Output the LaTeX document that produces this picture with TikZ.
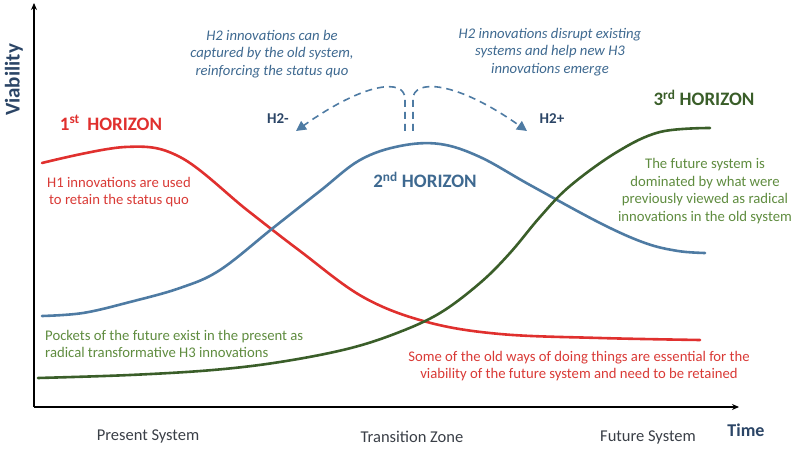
\documentclass[tikz,border=0pt]{standalone}
\usepackage{fontspec}
\setmainfont{Carlito}
\usetikzlibrary{arrows.meta,positioning}

\definecolor{hred}{HTML}{E0302E}
\definecolor{hredtxt}{HTML}{D93A36}
\definecolor{hblue}{HTML}{4E7BA3}
\definecolor{hbluetxt}{HTML}{3E6990}
\definecolor{hnavy}{HTML}{2B4566}
\definecolor{hgreen}{HTML}{3A5E29}
\definecolor{hgreentxt}{HTML}{5F8C3F}
\definecolor{hgray}{HTML}{3A3F47}

\begin{document}
\begin{tikzpicture}[
    x=1pt, y=-1pt,
    % --- STYLES ---
    axis/.style={line width=2pt, -{Stealth[length=7pt,width=6pt]}},
    curve/.style={line width=2.6pt, line cap=round, smooth, tension=0.6},
    note/.style={font=\fontsize{14.7}{17.5}\selectfont, align=center, inner sep=0pt},
    notei/.style={note, font=\fontsize{14.7}{17.8}\selectfont\itshape, text=hbluetxt},
    title/.style={font=\fontsize{19}{21}\selectfont\bfseries, inner sep=0pt},
    tag/.style={font=\fontsize{15}{17}\selectfont\bfseries, text=hnavy, inner sep=0pt},
    zone/.style={font=\fontsize{16.5}{18}\selectfont, text=hgray, inner sep=0pt},
    split/.style={dashed, dash pattern=on 7pt off 5pt, line width=1.6pt, draw=hblue,
        -{Triangle[length=10pt,width=10pt]}}
]
\useasboundingbox (0,0) rectangle (793,449);

% ===== 1. AXES =====
\coordinate (origin) at (34,407);
\coordinate (ytop) at (34,3);
\coordinate (xend) at (739,407);
\draw[axis] (origin) -- (ytop);
\draw[axis] (origin) -- (xend);

\node[rotate=90, font=\fontsize{21}{23}\selectfont\bfseries, text=hnavy] (ylab) at (14,80) {Viability};
\node[font=\fontsize{18}{20}\selectfont\bfseries, text=hnavy] (xlab) at (746,430) {Time};

\node[zone] (present) at (148,436) {Present System};
\node[zone] (transition) at (412,437) {Transition Zone};
\node[zone] (future) at (648,437) {Future System};

% ===== 2. CURVES =====
% Horizon 1
\draw[curve, hred] plot coordinates {(42,163) (125,147) (180,157) (247,210) (300,251)
    (363,297) (427,322) (500,334) (600,338) (700,340)};
% Horizon 2
\draw[curve, hblue] plot coordinates {(42,316) (83,313) (130,302) (180,288) (220,270) (273,228)
    (320,191) (360,160) (400,146) (440,144) (480,157) (530,185) (600,223) (645,243) (678,251) (705,253)};
% Horizon 3
\draw[curve, hgreen] plot coordinates {(38,378) (130,375) (213,370) (280,362) (347,349) (397,333)
    (440,313) (480,283) (510,253) (540,217) (570,186) (617,152) (660,132) (710,128)};

% ===== 3. TITLES =====
\node[title, text=hred] (h1) at (111,123) {1\textsuperscript{st}\,\ HORIZON};
\node[title, text=hbluetxt] (h2) at (425,180) {2\textsuperscript{nd} HORIZON};
\node[title, text=hgreen] (h3) at (704,98) {3\textsuperscript{rd} HORIZON};

% ===== 4. NOTES =====
\node[note, text=hredtxt] (n1) at (119,192) {H1 innovations are used\\ to retain the status quo};
\node[note, text=hgreentxt, align=left, anchor=west] (n3) at (45,344)
    {Pockets of the future exist in the present as\\ radical transformative H3 innovations};
\node[note, text=hgreentxt] (nfut) at (705,191) {The future system is\\ dominated by what were\\
    previously viewed as radical\\ innovations in the old system};
\node[note, text=hredtxt] (nold) at (579,366) {Some of the old ways of doing things are essential for the\\
    viability of the future system and need to be retained};

\node[notei] (capt) at (272,54) {H2 innovations can be\\ captured by the old system,\\ reinforcing the status quo};
\node[notei] (disr) at (550,52) {H2 innovations disrupt existing\\ systems and help new H3\\ innovations emerge};

% ===== 5. H2 SPLIT =====
\node[tag] (h2minus) at (278,119) {H2-};
\node[tag] (h2plus) at (552,119) {H2+};

\coordinate (forkL) at (405,131);
\coordinate (forkR) at (413,131);
\draw[split] (forkL) -- ++(0,-32) .. controls (405,78) and (365,82) .. (296,131);
\draw[split] (forkR) -- ++(0,-32) .. controls (413,79) and (455,80) .. (527,131);

\end{tikzpicture}
\end{document}
